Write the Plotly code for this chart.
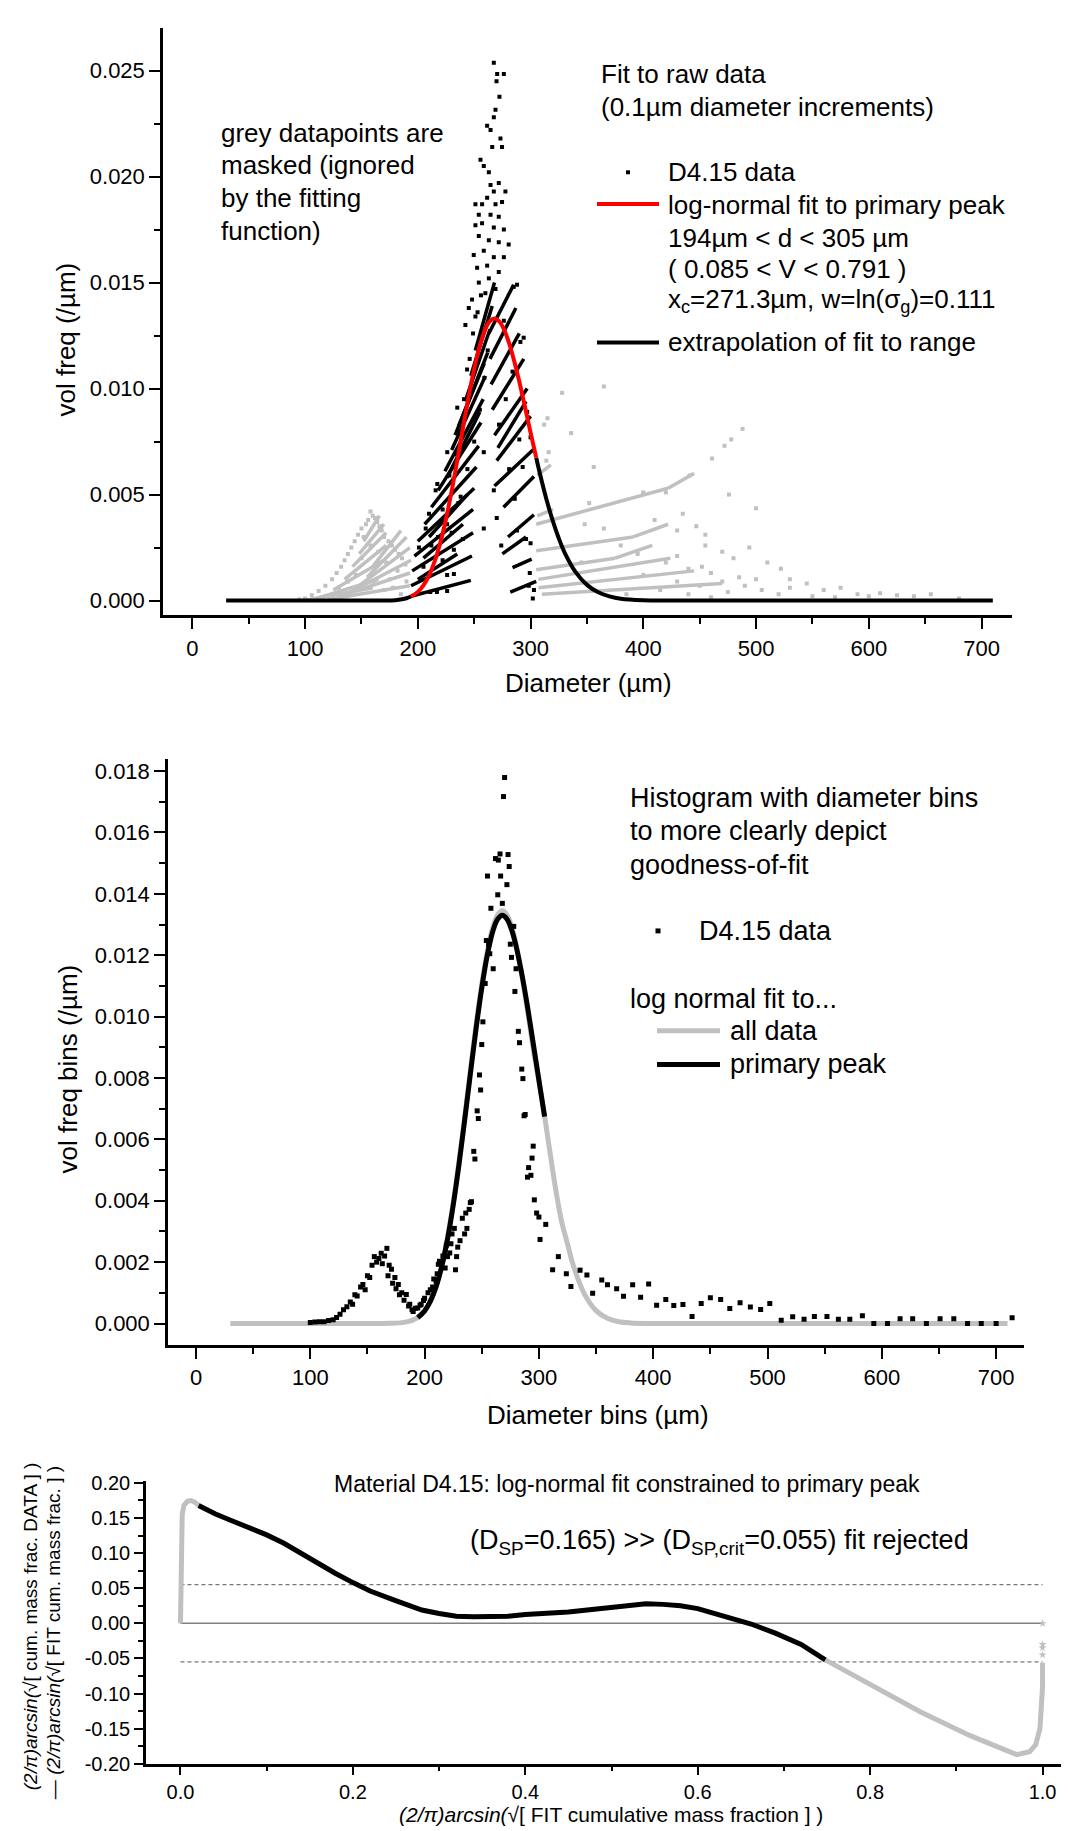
import plotly.graph_objects as go

W, H = 1069, 1831
FONT = "Arial, Liberation Sans, sans-serif"
GREY = "#c0c0c0"

# ---------------- panel 1 : raw data (0.1 um increments), values in 1e-3 /um
# log-normal fit curve
fit_d = [30, 100, 150, 170, 180, 186, 190, 194, 200, 205, 210, 215, 220, 225, 230, 235,
         240, 245, 250, 255, 260, 264, 268, 272, 276, 280, 285, 290, 295, 300, 305, 310,
         315, 320, 325, 330, 340, 350, 360, 370, 380, 400, 420, 450, 500, 600, 710]
fit_v = [0, 0, 0, 0.003, 0.02, 0.06, 0.11, 0.19, 0.41, 0.72, 1.19, 1.86, 2.74, 3.85, 5.16, 6.61,
         8.12, 9.60, 10.93, 12.03, 12.82, 13.18, 13.30, 13.18, 12.84, 12.30, 11.40, 10.33, 9.14, 7.93, 6.74, 5.62,
         4.60, 3.71, 2.94, 2.29, 1.34, 0.74, 0.39, 0.20, 0.09, 0.02, 0.004, 0, 0, 0, 0]
fit_lo, fit_hi = 194, 305

# black (fitted) streaks: start d, start v, end d, end v
blk_d0 = [194, 194, 195, 197, 200, 206, 212, 218, 224, 230, 236, 242, 247, 251,
          200, 205, 210, 226, 233,
          282, 284, 280, 276, 268, 270, 268, 266, 265, 264, 263, 275, 271]
blk_v0 = [0.2, 0.7, 1.4, 2.1, 2.8, 3.6, 4.4, 5.2, 6.1, 7.1, 8.2, 9.4, 10.6, 11.8,
          1.0, 2.0, 3.0, 5.8, 7.8,
          0.4, 1.55, 3.0, 4.4, 5.4, 6.6, 7.8, 9.0, 10.2, 11.4, 12.6, 2.2, 7.2]
blk_d1 = [247, 248, 249, 249, 250, 252, 254, 256, 258, 260, 262, 264, 266, 268,
          235, 240, 244, 255, 259,
          305, 301, 303, 303, 303, 300, 297, 294, 290, 287, 285, 296, 296]
blk_v1 = [0.95, 2.1, 3.2, 4.3, 5.3, 6.3, 7.3, 8.4, 9.5, 10.6, 11.7, 12.8, 13.9, 15.0,
          2.2, 3.6, 5.0, 8.9, 11.2,
          0.9, 1.95, 4.05, 5.85, 7.15, 8.7, 10.0, 11.4, 12.6, 13.8, 14.9, 3.0, 9.4]

# isolated black points
blk_pd = [267.4, 270.4, 276.3, 269.8, 272.4, 268.9, 267.4, 261.5, 264.5, 273.3, 266, 274.7, 255.6, 258.5,
          263, 271.8, 264.5, 267.4, 277.7, 251.1, 257, 261.5, 268.9, 274.7, 254.1, 264.5, 271.8, 251.1,
          257, 267.4, 276.3, 254.1, 263, 271.8, 280.6, 249.6, 258.5, 267.4, 276.3, 252.6, 261.5, 271.8,
          254.1, 263, 285.1, 288, 248.1, 259.9, 268.9, 245.2, 251.1, 242.2, 276.3, 293.9, 243.7, 235,
          226.1, 217.3, 215.8, 209.9, 207, 201, 258.5, 267.4, 258.5, 300, 298.4, 299.3, 211, 217, 226,
          232, 226, 303, 302,
          205, 212, 222, 228, 233, 238, 241, 246, 249, 253, 256, 230, 238, 244, 250, 255, 259, 262,
          222, 232, 240, 226, 236, 218,
          272, 278, 284, 291, 281, 290, 297, 286, 293, 300, 288, 296, 270, 274]
blk_pv = [25.37, 24.84, 24.84, 24.5, 23.77, 23.15, 22.8, 22.4, 22.2, 21.8, 21.4, 21.4, 20.8, 20.5,
          20.2, 19.7, 19.6, 19.3, 19.3, 18.7, 18.7, 19.0, 18.7, 18.8, 18.2, 18.2, 18.1, 17.7,
          17.8, 17.6, 17.5, 17.2, 17.0, 16.9, 16.8, 16.3, 16.5, 16.2, 16.2, 15.7, 15.8, 15.5,
          15.0, 15.2, 14.8, 14.9, 14.2, 14.5, 14.7, 13.8, 13.4, 13.0, 13.2, 12.4, 10.9, 9.1,
          7.0, 5.5, 5.2, 4.1, 3.4, 2.5, 7.0, 5.2, 3.4, 2.7, 0.7, 1.3, 0.4, 0.4, 0.45,
          1.25, 1.2, 0.5, 0.1,
          1.6, 2.6, 4.3, 5.9, 6.9, 8.0, 9.5, 11.4, 12.6, 13.6, 14.4, 3.2, 4.9, 6.2, 7.5, 9.0, 10.5, 11.8,
          1.9, 2.4, 2.9, 3.6, 4.6, 3.0,
          8.3, 9.5, 10.8, 12.2, 6.2, 7.6, 8.9, 4.8, 6.3, 7.7, 3.3, 2.9, 3.9, 2.6]

# masked (grey) streaks
gry_d0 = [120, 130, 140, 148, 155, 160, 100, 110, 125, 135, 142, 148, 152,
          305, 422, 305, 391, 305, 375, 307, 307, 310, 306, 306]
gry_v0 = [0.05, 0.2, 0.4, 0.7, 1.1, 1.6, 0.0, 0.1, 0.5, 1.0, 1.6, 2.2, 2.8,
          3.6, 5.3, 2.35, 3.0, 1.45, 2.0, 1.0, 0.6, 0.3, 4.0, 5.9]
gry_d1 = [193, 193, 194, 193, 190, 185, 160, 165, 170, 172, 172, 170, 166,
          422, 445, 391, 422, 375, 408, 424, 445, 470, 320, 318]
gry_v1 = [0.7, 1.3, 1.9, 2.5, 3.0, 3.3, 0.6, 1.0, 1.9, 2.6, 3.2, 3.6, 4.0,
          5.3, 6.0, 3.0, 3.6, 2.0, 2.6, 2.0, 1.4, 0.8, 4.3, 6.4]

# isolated grey points
gry_pd = [158, 160, 162, 156, 154, 164, 166, 150, 168, 147, 152, 170, 144, 174, 141, 158, 177, 138,
          180, 135, 183, 132, 186, 128, 189, 124, 118, 112, 106, 100, 95, 145, 160, 170, 175, 182,
          150, 165, 172, 178, 185, 190, 130, 138,
          328, 365, 315, 336, 356, 352, 400, 420, 441, 461, 472, 478, 488, 476, 500, 348, 365, 410,
          430, 447, 455, 470, 480, 494, 510, 522, 530, 545, 560, 575, 590, 610, 625, 640, 655, 380,
          395, 420, 440, 460, 470, 490, 505, 400, 430, 450, 475, 520, 550, 345, 355, 385, 415, 440,
          460, 312, 316, 314, 435, 455, 430, 452, 485, 500, 530, 570, 600, 680]
gry_pv = [4.2, 4.0, 3.9, 3.8, 3.6, 3.7, 3.5, 3.4, 3.3, 3.1, 3.0, 3.0, 2.8, 2.8, 2.5, 2.6, 2.6, 2.2,
          2.4, 1.9, 2.2, 1.6, 2.0, 1.3, 1.7, 1.0, 0.7, 0.45, 0.25, 0.1, 0.05, 1.2, 0.9, 0.5, 1.0, 1.4,
          2.0, 2.3, 1.8, 0.6, 0.3, 0.9, 0.6, 0.9,
          9.8, 10.1, 8.6, 7.9, 6.3, 4.6, 5.1, 5.1, 5.9, 6.7, 7.3, 7.6, 8.1, 5.0, 4.35, 3.6, 3.4, 3.8,
          3.3, 3.5, 2.6, 2.3, 2.0, 2.5, 1.8, 1.5, 1.0, 0.8, 0.5, 0.6, 0.3, 0.35, 0.25, 0.2, 0.3, 2.6,
          2.2, 1.8, 1.5, 1.3, 0.9, 0.7, 0.5, 1.2, 0.9, 0.7, 0.4, 0.3, 0.2, 1.8, 0.5, 0.3, 0.5, 0.3,
          0.15, 8.3, 7.0, 6.6, 4.1, 3.1, 2.1, 1.6, 1.1, 1.0, 0.6, 0.15, 0.2, 0.1]

# ---------------- panel 2 : binned histogram, values in 1e-3 /um
bin_d = [100, 104, 108, 112, 116, 120, 123, 126, 129, 132, 135, 137, 139, 141, 144, 146, 148, 150,
         152, 154, 156, 158, 160, 162, 163, 165, 167, 168, 169, 171, 172, 174, 175, 177, 178, 180,
         182, 184, 186, 187, 189, 190, 192, 194, 196, 197, 199, 200, 203, 205, 207, 208, 210, 211,
         212, 213, 216, 218, 219, 220, 222, 223, 224, 226, 227, 228, 229, 231, 233, 235, 236, 237,
         239, 240, 241, 243, 244, 246, 247, 248, 249, 250, 251, 253, 254, 255, 256, 257, 258, 260,
         262, 264, 264.5, 266, 266.5, 268, 269, 270, 272, 273, 274, 275, 276, 278, 279, 280, 282,
         283, 285, 286, 287, 288, 290, 291, 293, 294, 295, 296, 298, 300, 301, 306, 312, 317, 324,
         328, 336, 342, 347, 355, 360, 368, 374, 382, 389, 396, 403, 411, 418, 426, 434, 442, 450,
         459, 467, 476, 485, 494, 502, 512, 522, 532, 541, 552, 562, 572, 583, 593, 605, 616, 627,
         639, 651, 663, 675, 687, 700, 714]
bin_v = [0.03, 0.05, 0.06, 0.06, 0.1, 0.12, 0.2, 0.3, 0.45, 0.55, 0.7, 0.63, 0.94, 0.9, 1.19, 1.27, 1.1, 1.56,
         1.5, 1.9, 2.18, 2.0, 2.12, 2.29, 1.95, 2.2, 2.45, 1.56, 1.9, 1.77, 1.31, 1.5, 1.13, 1.27, 0.94, 1.0,
         0.76, 0.95, 0.57, 0.63, 0.45, 0.39, 0.5, 0.51, 0.6, 0.63, 0.75, 0.82, 1.0, 1.1, 1.19, 1.45, 1.38, 1.62,
         1.93, 2.03, 2.2, 1.81, 2.55, 2.18, 2.3, 2.6, 2.92, 3.1, 1.75, 2.18, 2.49, 2.7, 3.43, 2.92, 3.6, 3.1,
         3.72, 3.94, 3.97, 5.61, 5.36, 6.93, 6.68, 8.1, 7.61, 9.09, 9.83, 11.08, 12.48, 14.58, 12.35, 12.05, 13.53, 11.56,
         15.15, 13.97, 15.1, 15.3, 14.58, 13.69, 17.17, 17.79, 14.3, 15.28, 14.89, 12.36, 11.93, 12.94, 10.82, 11.56, 9.52,
         9.15, 8.29, 7.98, 6.77, 6.81, 4.77, 5.08, 4.83, 5.39, 5.78, 4.03, 3.6, 3.47, 2.74, 3.23, 1.75, 2.18, 1.62,
         1.21, 1.74, 1.58, 0.99, 1.42, 1.26, 1.13, 0.89, 1.26, 0.86, 1.29, 0.6, 0.78, 0.59, 0.62, 0.23, 0.65, 0.84,
         0.78, 0.49, 0.68, 0.54, 0.46, 0.65, 0.11, 0.22, 0.14, 0.23, 0.23, 0.14, 0.14, 0.25, 0.0, 0.0, 0.16, 0.16,
         0.0, 0.16, 0.16, 0.0, 0.0, 0.0, 0.19]

# log-normal fit to all data (grey curve), same diameters as fit_d
all_v = [0, 0, 0, 0.01, 0.03, 0.07, 0.12, 0.2, 0.42, 0.74, 1.22, 1.9, 2.8, 3.92, 5.25, 6.72,
         8.23, 9.72, 11.05, 12.15, 12.95, 13.32, 13.45, 13.32, 12.95, 12.35, 11.35, 10.2, 8.95, 7.9, 6.75, 5.5,
         4.3, 3.3, 2.6, 1.9, 0.95, 0.42, 0.17, 0.06, 0.02, 0, 0, 0, 0, 0, 0]

# ---------------- panel 3 : stabilised probability plot residuals
res_grey_a_x = [0.0, 0.0005, 0.001, 0.002, 0.004, 0.008, 0.012, 0.016, 0.021]
res_grey_a_y = [0.0, 0.06, 0.12, 0.155, 0.168, 0.174, 0.175, 0.173, 0.168]
res_black_x = [0.021, 0.04, 0.056, 0.08, 0.1, 0.12, 0.14, 0.16, 0.18, 0.2, 0.22, 0.248, 0.265, 0.28,
               0.3, 0.32, 0.34, 0.36, 0.38, 0.4, 0.427, 0.45, 0.48, 0.5, 0.52, 0.54, 0.56, 0.58,
               0.6, 0.62, 0.64, 0.662, 0.69, 0.72, 0.748]
res_black_y = [0.168, 0.156, 0.148, 0.136, 0.126, 0.114, 0.099, 0.085, 0.071, 0.058, 0.046, 0.033, 0.025, 0.019,
               0.014, 0.010, 0.0095, 0.0094, 0.010, 0.0125, 0.014, 0.016, 0.020, 0.023, 0.026, 0.028, 0.027, 0.025,
               0.021, 0.014, 0.006, -0.001, -0.014, -0.030, -0.052]
res_grey_b_x = [0.748, 0.795, 0.858, 0.916, 0.95, 0.97, 0.985, 0.992, 0.997, 0.999, 1.0, 1.0]
res_grey_b_y = [-0.052, -0.084, -0.126, -0.160, -0.178, -0.187, -0.183, -0.173, -0.15, -0.12, -0.09, -0.056]
res_star_x = [1.0, 1.0, 1.0, 1.0]
res_star_y = [-0.045, -0.035, -0.030, 0.0]
ref_x = [0.0, 1.0]
crit = 0.055


def seg_xy(d0, v0, d1, v1, scale=1e-3):
    xs, ys = [], []
    for a, b, c, e in zip(d0, v0, d1, v1):
        xs += [a, c, None]
        ys += [b * scale, e * scale, None]
    return xs, ys


def px(x):
    return x / W


def py(y):
    return 1 - y / H


fig = go.Figure()

# panel 1
gx, gy = seg_xy(gry_d0, gry_v0, gry_d1, gry_v1)
fig.add_trace(go.Scatter(x=gx, y=gy, mode="lines", line=dict(color=GREY, width=3.5),
                         xaxis="x", yaxis="y"))
fig.add_trace(go.Scatter(x=gry_pd, y=[v * 1e-3 for v in gry_pv], mode="markers",
                         marker=dict(symbol="square", size=4, color=GREY), xaxis="x", yaxis="y"))
bx, by = seg_xy(blk_d0, blk_v0, blk_d1, blk_v1)
fig.add_trace(go.Scatter(x=bx, y=by, mode="lines", line=dict(color="black", width=3.5),
                         xaxis="x", yaxis="y"))
fig.add_trace(go.Scatter(x=blk_pd, y=[v * 1e-3 for v in blk_pv], mode="markers",
                         marker=dict(symbol="square", size=4, color="black"), xaxis="x", yaxis="y"))

lo = [(d, v * 1e-3) for d, v in zip(fit_d, fit_v) if d <= fit_lo]
mid = [(d, v * 1e-3) for d, v in zip(fit_d, fit_v) if fit_lo <= d <= fit_hi]
hi = [(d, v * 1e-3) for d, v in zip(fit_d, fit_v) if d >= fit_hi]
for part, col in ((lo, "black"), (hi, "black"), (mid, "#ff0000")):
    fig.add_trace(go.Scatter(x=[p[0] for p in part], y=[p[1] for p in part], mode="lines",
                             line=dict(color=col, width=4, shape="spline"), xaxis="x", yaxis="y"))

# panel 2
fig.add_trace(go.Scatter(x=fit_d, y=[v * 1e-3 for v in all_v], mode="lines",
                         line=dict(color=GREY, width=5, shape="spline"), xaxis="x2", yaxis="y2"))
fig.add_trace(go.Scatter(x=[p[0] for p in mid], y=[p[1] for p in mid], mode="lines",
                         line=dict(color="black", width=5, shape="spline"), xaxis="x2", yaxis="y2"))
fig.add_trace(go.Scatter(x=bin_d, y=[v * 1e-3 for v in bin_v], mode="markers",
                         marker=dict(symbol="square", size=5, color="black"), xaxis="x2", yaxis="y2"))

# panel 3
for yv, dash, col, wd in ((crit, "4px,3px", "#555555", 1), (-crit, "4px,3px", "#555555", 1),
                          (0, "solid", "#808080", 1.5)):
    fig.add_trace(go.Scatter(x=ref_x, y=[yv, yv], mode="lines",
                             line=dict(color=col, width=wd, dash=dash), xaxis="x3", yaxis="y3"))
fig.add_trace(go.Scatter(x=res_grey_a_x, y=res_grey_a_y, mode="lines",
                         line=dict(color=GREY, width=5), xaxis="x3", yaxis="y3"))
fig.add_trace(go.Scatter(x=res_grey_b_x, y=res_grey_b_y, mode="lines",
                         line=dict(color=GREY, width=5), xaxis="x3", yaxis="y3"))
fig.add_trace(go.Scatter(x=res_star_x, y=res_star_y, mode="markers",
                         marker=dict(symbol="star", size=6, color=GREY), xaxis="x3", yaxis="y3"))
fig.add_trace(go.Scatter(x=res_black_x, y=res_black_y, mode="lines",
                         line=dict(color="black", width=5), xaxis="x3", yaxis="y3"))


def axis(dom, rng, dtick, minor, fmt, size, anchor, ticklen=11, mlen=6, **kw):
    d = dict(domain=dom, range=rng, dtick=dtick, tick0=0, tickformat=fmt, ticks="outside",
             ticklen=ticklen, tickwidth=2, tickcolor="black", showline=True, linecolor="black",
             linewidth=2.5, showgrid=False, zeroline=False, anchor=anchor,
             tickfont=dict(family=FONT, size=size, color="black"),
             minor=dict(tickmode="linear", tick0=0, dtick=minor, ticks="outside", ticklen=mlen,
                        tickwidth=2, tickcolor="black", showgrid=False))
    d.update(kw)
    return d


p3_ticks = [-0.2, -0.15, -0.1, -0.05, 0.0, 0.05, 0.1, 0.15, 0.2]

fig.update_layout(
    width=W, height=H, autosize=False, showlegend=False,
    margin=dict(l=0, r=0, t=0, b=0),
    paper_bgcolor="white", plot_bgcolor="white",
    xaxis=axis([px(155), px(1004)], [-26, 727], 100, 50, "d", 22, "y"),
    yaxis=axis([py(605), py(10.7)], [-0.0007, 0.02703], 0.005, 0.0025, ".3f", 22, "x"),
    xaxis2=axis([px(160), px(1016)], [-24.5, 724.4], 100, 50, "d", 22, "y2"),
    yaxis2=axis([py(1343), py(750)], [-0.00071, 0.0184], 0.002, 0.001, ".3f", 22, "x2"),
    xaxis3=axis([px(138), px(1063)], [-0.04, 1.033], 0.2, 0.1, ".1f", 20, "y3", ticklen=9, mlen=5),
    yaxis3=axis([py(1766), py(1480)], [-0.2, 0.203], 0.05, 0.025, ".2f", 20, "x3", ticklen=9, mlen=5,
                tickmode="array", tickvals=p3_ticks, ticktext=[f"{v:.2f}" for v in p3_ticks]),
)


def label(x, y, text, size, angle=0, anchor="left"):
    fig.add_annotation(x=px(x), y=py(y), xref="paper", yref="paper", text=text, showarrow=False,
                       xanchor=anchor if angle == 0 else "center", yanchor="middle", textangle=angle,
                       font=dict(family=FONT, size=size, color="black"))


# panel 1 texts
label(591, 58, "Fit to raw data", 26)
label(591, 91, "(0.1µm diameter increments)", 26)
label(658, 157, "D4.15 data", 26)
label(658, 190, "log-normal fit to primary peak", 26)
label(658, 223, "194µm < d < 305 µm", 26)
label(658, 255, "( 0.085 < V < 0.791 )", 26)
label(658, 287, "x<sub>c</sub>=271.3µm, w=ln(σ<sub>g</sub>)=0.111", 26)
label(658, 329, "extrapolation of fit to range", 26)
for i, t in enumerate(["grey datapoints are", "masked (ignored", "by the fitting", "function)"]):
    label(211, 117 + 33 * i, t, 26)
label(58, 326, "vol freq (/µm)", 26, angle=-90)
label(580, 673, "Diameter (µm)", 26, anchor="center")

# panel 2 texts
label(620, 790, "Histogram with diameter bins", 27)
label(620, 823, "to more clearly depict", 27)
label(620, 857, "goodness-of-fit", 27)
label(689, 924, "D4.15 data", 27)
label(620, 993, "log normal fit to...", 27)
label(720, 1025, "all data", 27)
label(720, 1059, "primary peak", 27)
label(60, 1064, "vol freq bins (/µm)", 26, angle=-90)
label(590, 1413, "Diameter bins (µm)", 26, anchor="center")

# panel 3 texts
label(619, 1483, "Material D4.15: log-normal fit constrained to primary peak", 23, anchor="center")
label(460, 1542, "(D<sub>SP</sub>=0.165) >> (D<sub>SP,crit</sub>=0.055) fit rejected", 27)
label(603, 1817, "<i>(2/π)arcsin(</i>√[ FIT cumulative mass fraction ] )", 21, anchor="center")
label(22, 1627, "<i>(2/π)arcsin(</i>√[ cum. mass frac. DATA ] )", 19, angle=-90)
label(45, 1634, "— <i>(2/π)arcsin(</i>√[ FIT cum. mass frac. ] )", 19, angle=-90)

# legend samples
legend_lines = [(589, 651, 189, "#ff0000", 4), (589, 651, 329, "black", 4),
                (649, 712, 1025, GREY, 5), (649, 712, 1059, "black", 5)]
for x0, x1, y, col, wd in legend_lines:
    fig.add_shape(type="line", xref="paper", yref="paper", x0=px(x0), x1=px(x1), y0=py(y), y1=py(y),
                  line=dict(color=col, width=wd))
for x, y, s in ((620, 157, 2), (650, 924, 2.5)):
    fig.add_shape(type="rect", xref="paper", yref="paper", x0=px(x - s), x1=px(x + s),
                  y0=py(y + s), y1=py(y - s), fillcolor="black", line=dict(width=0))

fig.write_html("out.html")
